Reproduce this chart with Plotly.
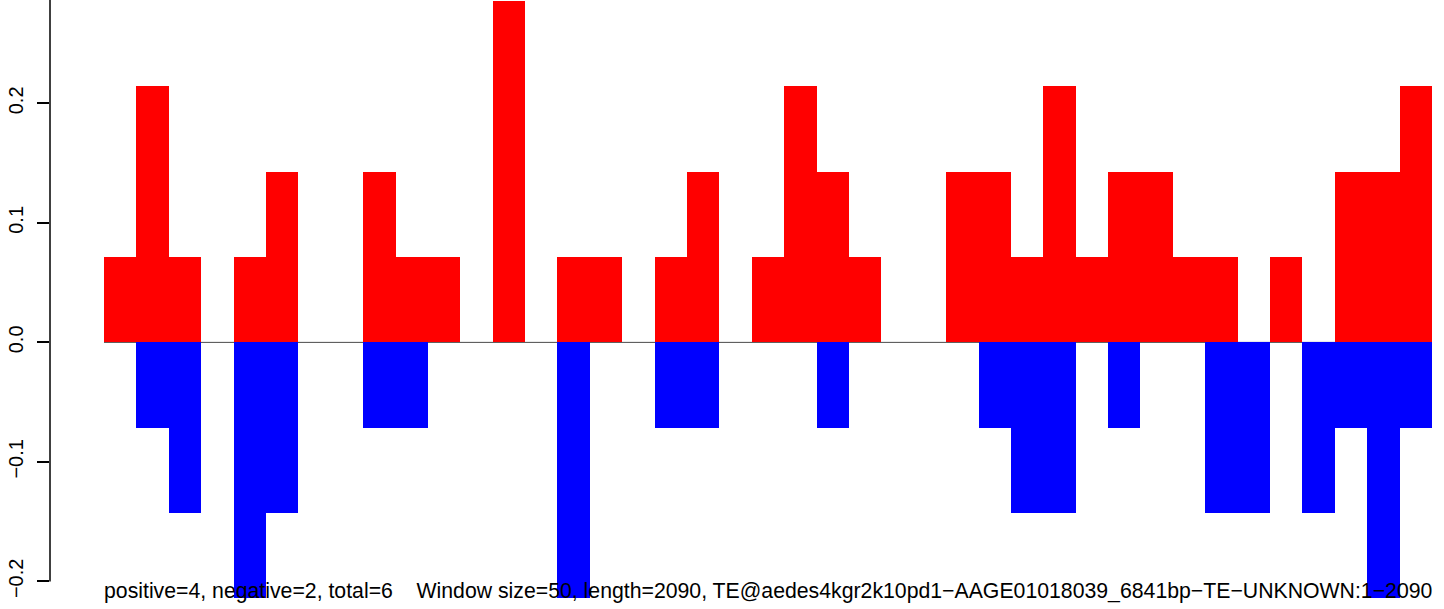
import plotly.graph_objects as go

# window index (bar order) and per-window fractions
windows = list(range(41))
positive = [0.0714, 0.2143, 0.0714, 0, 0.0714, 0.1429, 0, 0, 0.1429, 0.0714,
            0.0714, 0, 0.2857, 0, 0.0714, 0.0714, 0, 0.0714, 0.1429, 0,
            0.0714, 0.2143, 0.1429, 0.0714, 0, 0, 0.1429, 0.1429, 0.0714, 0.2143,
            0.0714, 0.1429, 0.1429, 0.0714, 0.0714, 0, 0.0714, 0, 0.1429, 0.1429,
            0.2143]
negative = [0, -0.0714, -0.1429, 0, -0.2143, -0.1429, 0, 0, -0.0714, -0.0714,
            0, 0, 0, 0, -0.2143, 0, 0, -0.0714, -0.0714, 0,
            0, 0, -0.0714, 0, 0, 0, 0, -0.0714, -0.1429, -0.1429,
            0, -0.0714, 0, 0, -0.1429, -0.1429, 0, -0.1429, -0.0714, -0.2143,
            -0.0714]
ytick_vals = [-0.2, -0.1, 0.0, 0.1, 0.2]
ytick_text = ["−0.2", "−0.1", "0.0", "0.1", "0.2"]
caption = ("positive=4, negative=2, total=6\u00a0\u00a0\u00a0\u00a0Window size=50, length=2090, "
           "TE@aedes4kgr2k10pd1−AAGE01018039_6841bp−TE−UNKNOWN:1−2090")

FONT = "Liberation Sans, Arial, Helvetica, sans-serif"
W, H = 1444, 609
ML, MR, MT, MB = 50, 12, 0, 0
YMIN, YMAX = -0.2231, 0.2865
XMIN, XMAX = -2.167, 40.5

fig = go.Figure()
fig.add_trace(go.Bar(x=windows, y=positive, width=1, marker=dict(color="#FF0000", line=dict(width=0)),
                     showlegend=False, hoverinfo="skip"))
fig.add_trace(go.Bar(x=windows, y=negative, width=1, marker=dict(color="#0000FF", line=dict(width=0)),
                     showlegend=False, hoverinfo="skip"))

# zero line across the windows
fig.add_shape(type="line", xref="x", yref="y", x0=windows[0] - 0.5, x1=windows[-1] + 0.5, y0=0, y1=0,
              line=dict(color="#4A4A4A", width=1), layer="below")
# y axis line (from -0.2 to the top)
fig.add_shape(type="line", xref="paper", yref="y", x0=0, x1=0, y0=ytick_vals[0], y1=YMAX,
              line=dict(color="black", width=1.5), layer="above")

fig.add_annotation(text=caption, xref="x", yref="paper", x=windows[0] - 0.5, y=(H - 591) / H,
                   xanchor="left", yanchor="middle", showarrow=False, xshift=-2,
                   font=dict(family=FONT, size=21.25, color="black"))

fig.update_layout(
    width=W, height=H, margin=dict(l=ML, r=MR, t=MT, b=MB),
    paper_bgcolor="white", plot_bgcolor="white",
    barmode="overlay", bargap=0,
    font=dict(family=FONT, color="black"),
    xaxis=dict(range=[XMIN, XMAX], visible=False, showgrid=False, zeroline=False),
    yaxis=dict(range=[YMIN, YMAX], tickvals=ytick_vals, ticktext=ytick_text,
               ticks="outside", ticklen=12, tickwidth=1.5, tickcolor="black",
               tickangle=-90, ticklabelstandoff=6,
               tickfont=dict(family=FONT, size=20, color="black"),
               showgrid=False, zeroline=False, showline=False),
)

fig.write_html("out.html", config={"displayModeBar": False},
               post_script="document.body.style.margin='0';")
